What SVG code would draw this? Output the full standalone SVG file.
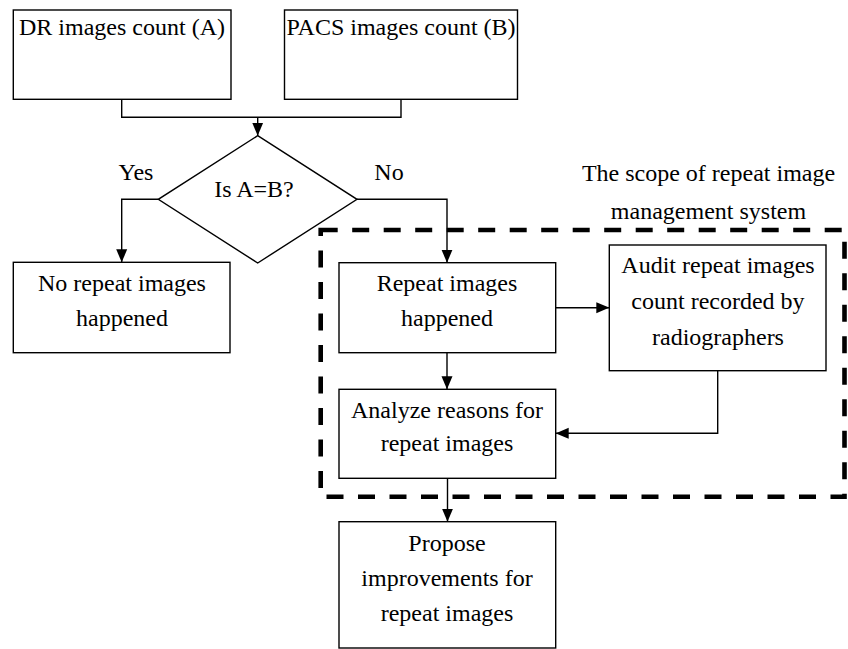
<svg xmlns="http://www.w3.org/2000/svg" width="848" height="649" viewBox="0 0 848 649">
<defs>
<marker id="ah" markerWidth="13" markerHeight="12" refX="13" refY="6" orient="auto" markerUnits="userSpaceOnUse">
<path d="M0,0.5 L13,6 L0,11.5 Z" fill="#000"/>
</marker>
<style>
.box{fill:#fff;stroke:#000;stroke-width:1.4}
.ln{fill:none;stroke:#000;stroke-width:1.4}
text{font-family:"Liberation Serif","Times New Roman",serif;font-size:24px;fill:#000;text-anchor:middle}
</style>
</defs>
<rect width="848" height="649" fill="#fff"/>
<g id="scope">
<rect x="320.7" y="230" width="523.8" height="266.7" fill="none" stroke="#000" stroke-width="4.6" stroke-dasharray="17 14.5"/>
<text x="708.5" y="181">The scope of repeat image</text>
<text x="708.5" y="219">management system</text>
</g>
<g id="connectors">
<polyline class="ln" points="121.7,99.3 121.7,117.3 401,117.3 401,99.3"/>
<line class="ln" x1="257.7" y1="117.3" x2="257.7" y2="135.7" marker-end="url(#ah)"/>
<polyline class="ln" points="158.3,199.3 121.7,199.3 121.7,262.3" marker-end="url(#ah)"/>
<polyline class="ln" points="357,199.3 447,199.3 447,262.7" marker-end="url(#ah)"/>
<line class="ln" x1="555.7" y1="307.7" x2="609.3" y2="307.7" marker-end="url(#ah)"/>
<line class="ln" x1="447" y1="352.7" x2="447" y2="389.3" marker-end="url(#ah)"/>
<polyline class="ln" points="717.7,370.7 717.7,433.3 555.7,433.3" marker-end="url(#ah)"/>
<line class="ln" x1="447.5" y1="478.3" x2="447.5" y2="521.7" marker-end="url(#ah)"/>
<text x="136" y="180">Yes</text>
<text x="389" y="180">No</text>
</g>
<g id="dr">
<rect class="box" x="13.3" y="10" width="217.7" height="89.3"/>
<text x="122" y="35">DR images count (A)</text>
</g>
<g id="pacs">
<rect class="box" x="284.5" y="10" width="233" height="89.3"/>
<text x="401" y="35">PACS images count (B)</text>
</g>
<g id="decision">
<polygon class="box" points="257.7,135.7 357,199.3 257.7,263 158.3,199.3"/>
<text x="254" y="196.7">Is A=B?</text>
</g>
<g id="norepeat">
<rect class="box" x="13.3" y="262.3" width="216.7" height="90.4"/>
<text x="122" y="290.5">No repeat images</text>
<text x="122" y="325.5">happened</text>
</g>
<g id="repeat">
<rect class="box" x="339" y="262.7" width="216.7" height="90"/>
<text x="447" y="290.5">Repeat images</text>
<text x="447" y="325.5">happened</text>
</g>
<g id="audit">
<rect class="box" x="609.3" y="245" width="216.7" height="125.7"/>
<text x="718" y="273">Audit repeat images</text>
<text x="718" y="309">count recorded by</text>
<text x="718" y="345">radiographers</text>
</g>
<g id="analyze">
<rect class="box" x="339" y="389.3" width="216.7" height="89"/>
<text x="447" y="418">Analyze reasons for</text>
<text x="447" y="451">repeat images</text>
</g>
<g id="propose">
<rect class="box" x="339" y="521.7" width="216.7" height="126.3"/>
<text x="447" y="550.5">Propose</text>
<text x="447" y="585.5">improvements for</text>
<text x="447" y="620.5">repeat images</text>
</g>
</svg>
